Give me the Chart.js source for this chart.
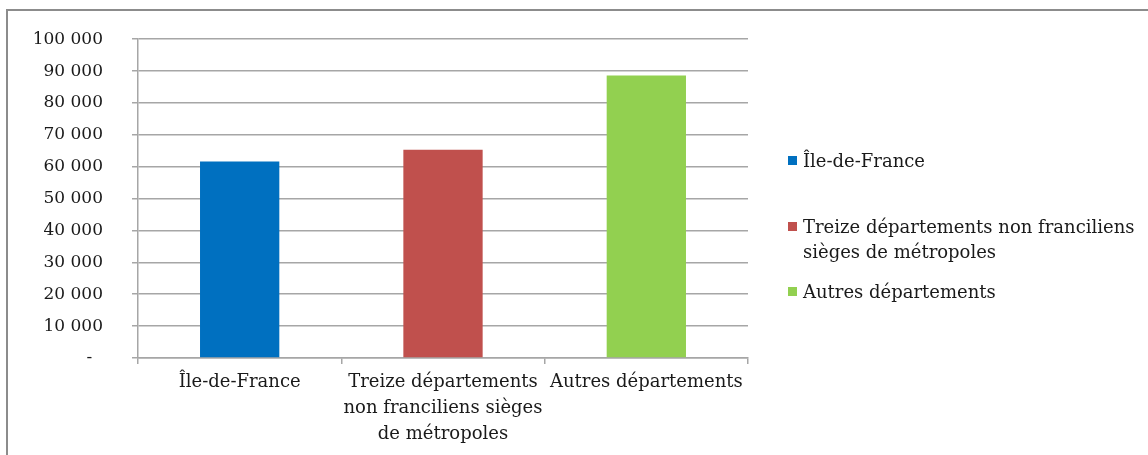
<!DOCTYPE html>
<html>
<head>
<meta charset="utf-8">
<script src="https://cdn.jsdelivr.net/npm/chart.js@4/dist/chart.umd.min.js"></script>
<style>
  body { margin: 0; background: #fff; }
  #wrap { position: relative; width: 1148px; height: 455px; overflow: hidden; }
  #frame { position: absolute; left: 6px; top: 9px; width: 1200px; height: 500px;
           border-top: 2px solid #8c8c8c; border-left: 2px solid #8c8c8c; }
  #chartBox { position: absolute; left: 0; top: 0; width: 1148px; height: 455px; }
  #legend { position: absolute; left: 0; top: 0; font-family: "DejaVu Serif", serif;
            font-size: 18px; color: #1a1a1a; }
  .item { position: absolute; left: 788px; width: 360px; line-height: 25px; display: flex; }
  .box { width: 9px; height: 9px; flex: none; margin-top: 8px; margin-right: 6px; }
</style>
</head>
<body>
<div id="wrap">
  <div id="frame"></div>
  <div id="chartBox"><canvas id="barChart"></canvas></div>
  <div id="legend"></div>
</div>
<script>
// data
var categories = ['Île-de-France', 'Treize départements non franciliens sièges de métropoles', 'Autres départements'];
var axisLabels = ['Île-de-France', ['Treize départements', 'non franciliens sièges', 'de métropoles'], 'Autres départements'];
var values = [61600, 65300, 88600];
var colors = ['#0070c0', '#c0504d', '#92d050'];
var yTicks = [0, 10000, 20000, 30000, 40000, 50000, 60000, 70000, 80000, 90000, 100000];

var gridColor = '#a6a6a6';

function fmt(v) {
    if (v === 0) return '-  ';
    return String(v).replace(/\B(?=(\d{3})+(?!\d))/g, ' ');
}

var ctx = document.getElementById('barChart').getContext('2d');
var barChart = new Chart(ctx, {
    type: 'bar',
    data: {
        labels: axisLabels,
        datasets: [{
            data: values,
            backgroundColor: colors,
            categoryPercentage: 1,
            barPercentage: 0.39
        }]
    },
    options: {
        responsive: true,
        maintainAspectRatio: false,
        animation: false,
        layout: { padding: { left: 8, top: 39, right: 400, bottom: 0 } },
        plugins: { legend: { display: false }, tooltip: { enabled: false } },
        scales: {
            x: {
                grid: { offset: true, drawOnChartArea: false, drawTicks: true, tickLength: 6, color: gridColor, lineWidth: 1.5 },
                border: { color: gridColor, width: 1.5 },
                ticks: { color: '#1a1a1a', font: { family: 'DejaVu Serif', size: 18, lineHeight: 1.42 }, padding: 6, maxRotation: 0, autoSkip: false },
                afterFit: function (s) { s.height = 97; }
            },
            y: {
                min: 0,
                max: 100000,
                afterBuildTicks: function (s) { s.ticks = yTicks.map(function (v) { return { value: v }; }); },
                grid: { color: gridColor, lineWidth: 1.5, tickLength: 6 },
                border: { color: gridColor, width: 1.5 },
                ticks: { color: '#1a1a1a', font: { family: 'DejaVu Serif', size: 17 }, padding: 29, callback: function (v) { return fmt(v); } },
                afterFit: function (s) { s.width = 130; }
            }
        }
    }
});

// legend from the same arrays
var legendTops = [148, 214, 279];
var legend = document.getElementById('legend');
categories.forEach(function (c, i) {
    var item = document.createElement('div');
    item.className = 'item';
    item.style.top = legendTops[i] + 'px';
    var box = document.createElement('span');
    box.className = 'box';
    box.style.background = colors[i];
    var txt = document.createElement('span');
    txt.textContent = c;
    item.appendChild(box);
    item.appendChild(txt);
    legend.appendChild(item);
});
</script>
</body>
</html>
